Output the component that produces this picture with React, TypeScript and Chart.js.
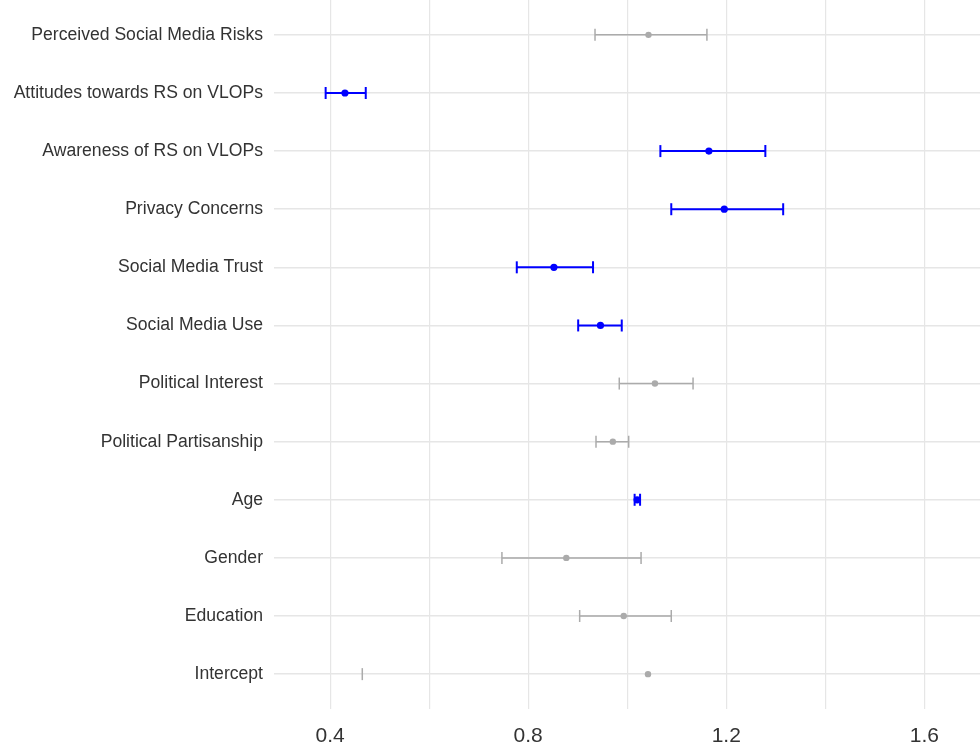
import React, { useEffect, useRef } from "react";
import { Chart, registerables } from "chart.js";

Chart.register(...registerables);

const predictors: string[] = [
  "Perceived Social Media Risks",
  "Attitudes towards RS on VLOPs",
  "Awareness of RS on VLOPs",
  "Privacy Concerns",
  "Social Media Trust",
  "Social Media Use",
  "Political Interest",
  "Political Partisanship",
  "Age",
  "Gender",
  "Education",
  "Intercept",
];
const estimates: number[] = [1.043, 0.43, 1.165, 1.196, 0.852, 0.946, 1.056, 0.971, 1.02, 0.877, 0.993, 1.042];
const lowerCI: number[] = [0.935, 0.391, 1.067, 1.089, 0.777, 0.901, 0.984, 0.937, 1.015, 0.747, 0.904, 0.465];
const upperCI: (number | null)[] = [1.161, 0.472, 1.279, 1.315, 0.931, 0.989, 1.133, 1.003, 1.026, 1.028, 1.089, null];
const significant: boolean[] = [false, true, true, true, true, true, false, false, true, false, false, false];
const xTickValues: number[] = [0.4, 0.6, 0.8, 1.0, 1.2, 1.4, 1.6];
const xTickLabels: string[] = ["0.4", "", "0.8", "", "1.2", "", "1.6"];

const BLUE = "#0000ff";
const GREY = "#ababab";

const errorBarPlugin = {
  id: "errorBars",
  beforeDatasetsDraw(chart: any) {
    const ctx = chart.ctx;
    const xs = chart.scales.x;
    const ys = chart.scales.y;
    ctx.save();
    predictors.forEach((_, i) => {
      const y = ys.getPixelForValue(i + 1);
      const sig = significant[i];
      ctx.strokeStyle = sig ? BLUE : GREY;
      ctx.lineWidth = sig ? 2 : 1.5;
      const half = 6;
      const lo = lowerCI[i];
      const hi = upperCI[i];
      const xl = xs.getPixelForValue(lo);
      ctx.beginPath();
      ctx.moveTo(xl, y - half);
      ctx.lineTo(xl, y + half);
      ctx.stroke();
      if (hi !== null) {
        const xh = xs.getPixelForValue(hi);
        ctx.beginPath();
        ctx.moveTo(xh, y - half);
        ctx.lineTo(xh, y + half);
        ctx.moveTo(xl, y);
        ctx.lineTo(xh, y);
        ctx.stroke();
      }
    });
    ctx.restore();
  },
};

const zeroPadding = (scale: any) => {
  scale.paddingTop = 0;
  scale.paddingBottom = 0;
  scale.paddingLeft = 0;
  scale.paddingRight = 0;
};

export default function App() {
  const canvasRef = useRef<HTMLCanvasElement | null>(null);

  useEffect(() => {
    document.body.style.margin = "0";
    const canvas = canvasRef.current;
    if (!canvas) return;
    const chart = new Chart(canvas, {
      type: "scatter",
      data: {
        datasets: [
          {
            data: estimates.map((e, i) => ({ x: e, y: i + 1 })),
            pointBackgroundColor: significant.map((s) => (s ? BLUE : GREY)),
            pointBorderColor: significant.map((s) => (s ? BLUE : GREY)),
            pointBorderWidth: 0,
            pointRadius: significant.map((s) => (s ? 3.6 : 3.2)),
            clip: false,
          },
        ],
      },
      options: {
        responsive: false,
        animation: false,
        layout: { autoPadding: false, padding: 0 },
        plugins: {
          legend: { display: false },
          tooltip: { enabled: false },
        },
        scales: {
          x: {
            type: "linear",
            min: 0.2867,
            max: 1.7125,
            afterBuildTicks: (scale: any) => {
              scale.ticks = xTickValues.map((v) => ({ value: v }));
            },
            afterFit: (scale: any) => {
              scale.height = 41;
              zeroPadding(scale);
            },
            ticks: {
              autoSkip: false,
              maxRotation: 0,
              padding: 15,
              color: "#333333",
              font: { family: "'Liberation Sans', Arial, sans-serif", size: 21 },
              callback: (_v: any, idx: number) => xTickLabels[idx],
            },
            grid: { color: "#e6e6e6", lineWidth: 1.2, drawTicks: false },
            border: { display: false },
          },
          y: {
            type: "linear",
            reverse: true,
            min: 0.4,
            max: 12.6,
            afterBuildTicks: (scale: any) => {
              scale.ticks = predictors.map((_, i) => ({ value: i + 1 }));
            },
            afterFit: (scale: any) => {
              scale.width = 274;
              zeroPadding(scale);
            },
            ticks: {
              autoSkip: false,
              padding: 11,
              color: "#333333",
              font: { family: "'Liberation Sans', Arial, sans-serif", size: 17.6 },
              callback: (_v: any, idx: number) => predictors[idx],
            },
            grid: { color: "#e6e6e6", lineWidth: 1.5, drawTicks: false },
            border: { display: false },
          },
        },
      },
      plugins: [errorBarPlugin],
    });
    return () => chart.destroy();
  }, []);

  return (
    <div style={{ width: 980, height: 750, background: "#ffffff" }}>
      <canvas ref={canvasRef} width={980} height={750} />
    </div>
  );
}
